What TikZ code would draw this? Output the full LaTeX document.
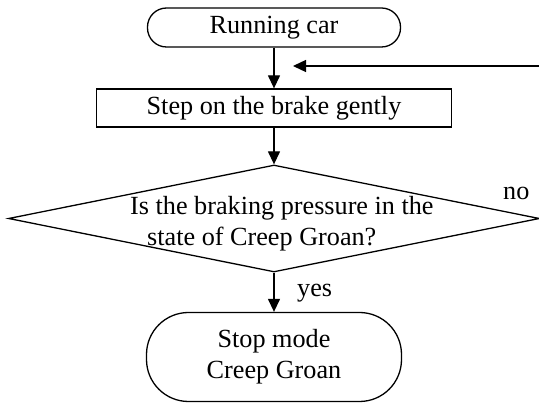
\documentclass[tikz,border=0pt]{standalone}
\usepackage{fontspec}
\setmainfont{Liberation Serif}
\usetikzlibrary{shapes.geometric,arrows.meta}
\begin{document}
\begin{tikzpicture}[x=1pt,y=-1pt,
  every node/.style={font=\fontsize{26.2}{31}\selectfont},
  term/.style={draw, line width=1.3pt, inner sep=0pt, align=center},
  stepbox/.style={draw, line width=1.3pt, inner sep=0pt},
  arr/.style={line width=1.3pt, -{Triangle[length=13pt,width=12pt]}},
  lbl/.style={inner sep=0pt, anchor=base west}
]
\useasboundingbox (0,0) rectangle (539,403);

\node[term, rounded corners=19pt, minimum width=253pt, minimum height=39pt] (run) at (274,27.5) {Running car};
\node[stepbox, minimum width=355pt, minimum height=38pt] (step) at (274,108) {Step on the brake gently};
\node[diamond, draw, line width=1.3pt, minimum width=531pt, minimum height=107pt, inner sep=0pt] (dec) at (274,218.5) {};
\node[align=left, inner sep=0pt, anchor=west] (q) at (130,224) {Is the braking pressure in the\\\hspace*{17pt}state of Creep Groan?};
\node[term, rounded corners=42pt, minimum width=255pt, minimum height=89pt] (stop) at (274,357) {Stop mode\\Creep Groan};

\node[lbl] (no) at (503,200) {no};
\node[lbl] (yes) at (297,297) {yes};

\coordinate (fbs) at (540,66);
\coordinate (fbe) at (293,66);

\draw[arr] (run) -- (step);
\draw[arr] (step) -- (dec);
\draw[arr] (dec) -- (stop);
\draw[arr] (fbs) -- (fbe);
\end{tikzpicture}
\end{document}
